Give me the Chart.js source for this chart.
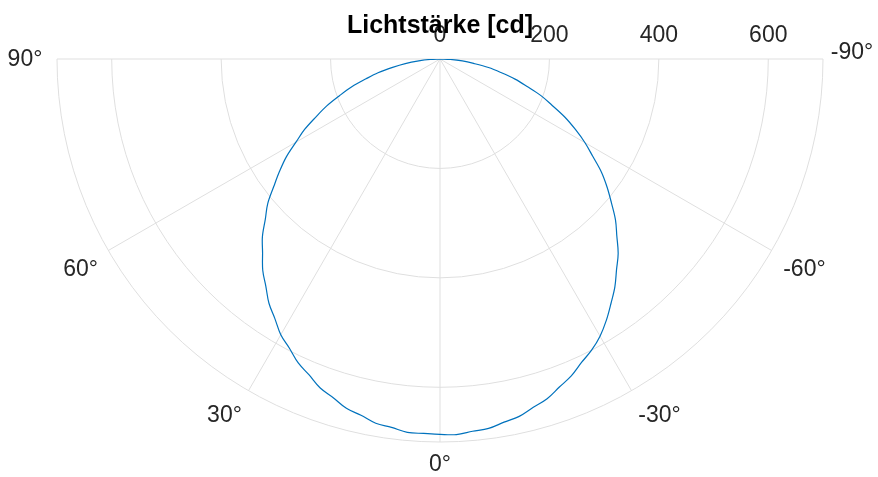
<!DOCTYPE html>
<html>
<head>
<meta charset="utf-8">
<script src="https://cdn.jsdelivr.net/npm/chart.js@4/dist/chart.umd.min.js"></script>
<style>
  html, body { margin: 0; padding: 0; background: #fff; }
  canvas { display: block; }
</style>
</head>
<body>
<canvas id="polar" width="878" height="477"></canvas>
<script>
// winkel in grad (0 = unten, +90 links, -90 rechts)
const thetaDeg = [
  -90, -87.5, -85, -82.5, -80, -77.5, -75, -72.5, -70, -67.5, -65, -62.5,
  -60, -57.5, -55, -52.5, -50, -47.5, -45, -42.5, -40, -37.5, -35, -32.5,
  -30, -27.5, -25, -22.5, -20, -17.5, -15, -12.5, -10, -7.5, -5, -2.5,
  0, 2.5, 5, 7.5, 10, 12.5, 15, 17.5, 20, 22.5, 25, 27.5,
  30, 32.5, 35, 37.5, 40, 42.5, 45, 47.5, 50, 52.5, 55, 57.5,
  60, 62.5, 65, 67.5, 70, 72.5, 75, 77.5, 80, 82.5, 85, 87.5, 90
];
// lichtstärke in cd
const intensity = [
  0, 19, 41, 62, 90, 114, 142, 167, 197, 222, 252, 279,
  306, 331, 360, 385, 409, 435, 457, 482, 502, 525, 545, 566,
  585, 600, 612, 627, 638, 651, 659, 669, 674, 681, 683, 687,
  686, 685, 685, 679, 676, 667, 661, 649, 640, 625, 613, 596,
  582, 562, 545, 523, 504, 480, 459, 433, 411, 383, 358, 333,
  304, 279, 250, 224, 195, 169, 140, 116, 88, 64, 39, 18, 0
];

const rTicks = [0, 200, 400, 600];
const rMax = 700;
const thetaTicks = [90, 60, 30, 0, -30, -60, -90];

const points = thetaDeg.map((t, i) => {
  const a = t * Math.PI / 180;
  return { x: -intensity[i] * Math.sin(a), y: -intensity[i] * Math.cos(a) };
});

const gridColor = '#dfdfdf';
const textColor = '#262626';

// kleine verschiebungen der winkel-beschriftung (px)
const labelNudge = {
  '90': [0, 1], '60': [0, 3], '30': [-8, -3], '0': [0, -9],
  '-30': [12, -3], '-60': [5, 3], '-90': [-3, -6]
};

const polarGrid = {
  id: 'polarGrid',
  beforeDatasetsDraw(chart) {
    const ctx = chart.ctx;
    const xs = chart.scales.x, ys = chart.scales.y;
    const cx = xs.getPixelForValue(0), cy = ys.getPixelForValue(0);
    const px = r => xs.getPixelForValue(r) - cx;
    ctx.save();
    ctx.strokeStyle = gridColor;
    ctx.lineWidth = 1;
    // ringe
    rTicks.concat([rMax]).forEach(r => {
      if (r === 0) return;
      ctx.beginPath();
      ctx.arc(cx, cy, px(r), 0, Math.PI);
      ctx.stroke();
    });
    // speichen
    thetaTicks.forEach(t => {
      const a = t * Math.PI / 180;
      ctx.beginPath();
      ctx.moveTo(cx, cy);
      ctx.lineTo(cx - px(rMax) * Math.sin(a), cy + px(rMax) * Math.cos(a));
      ctx.stroke();
    });
    ctx.restore();
  },
  afterDraw(chart) {
    const ctx = chart.ctx;
    const xs = chart.scales.x, ys = chart.scales.y;
    const cx = xs.getPixelForValue(0), cy = ys.getPixelForValue(0);
    const R = xs.getPixelForValue(rMax) - cx;
    ctx.save();
    ctx.fillStyle = textColor;
    ctx.font = '23px "Liberation Sans", Arial, sans-serif';
    ctx.textAlign = 'center';
    ctx.textBaseline = 'middle';
    thetaTicks.forEach(t => {
      const a = t * Math.PI / 180;
      const lr = R + 32;
      const n = labelNudge[String(t)] || [0, 0];
      ctx.fillText(t + '°', cx - lr * Math.sin(a) + n[0], cy + lr * Math.cos(a) + n[1]);
    });
    rTicks.forEach(r => {
      ctx.fillText(String(r), xs.getPixelForValue(r), 36);
    });
    ctx.fillStyle = '#000';
    ctx.font = 'bold 25px "Liberation Sans", Arial, sans-serif';
    ctx.textBaseline = 'alphabetic';
    ctx.fillText('Lichtstärke [cd]', cx, 33);
    ctx.restore();
  }
};

new Chart(document.getElementById('polar'), {
  type: 'scatter',
  data: {
    datasets: [{
      data: points,
      showLine: true,
      borderColor: '#0072BD',
      borderWidth: 1.2,
      pointRadius: 0,
      tension: 0.35,
      fill: false
    }]
  },
  options: {
    responsive: false,
    animation: false,
    devicePixelRatio: 1,
    layout: { padding: { left: 57, right: 55, top: 59, bottom: 35 } },
    scales: {
      x: { type: 'linear', min: -rMax, max: rMax, display: false },
      y: { type: 'linear', min: -rMax, max: 0, display: false }
    },
    plugins: {
      legend: { display: false },
      tooltip: { enabled: false }
    }
  },
  plugins: [polarGrid]
});
</script>
</body>
</html>
